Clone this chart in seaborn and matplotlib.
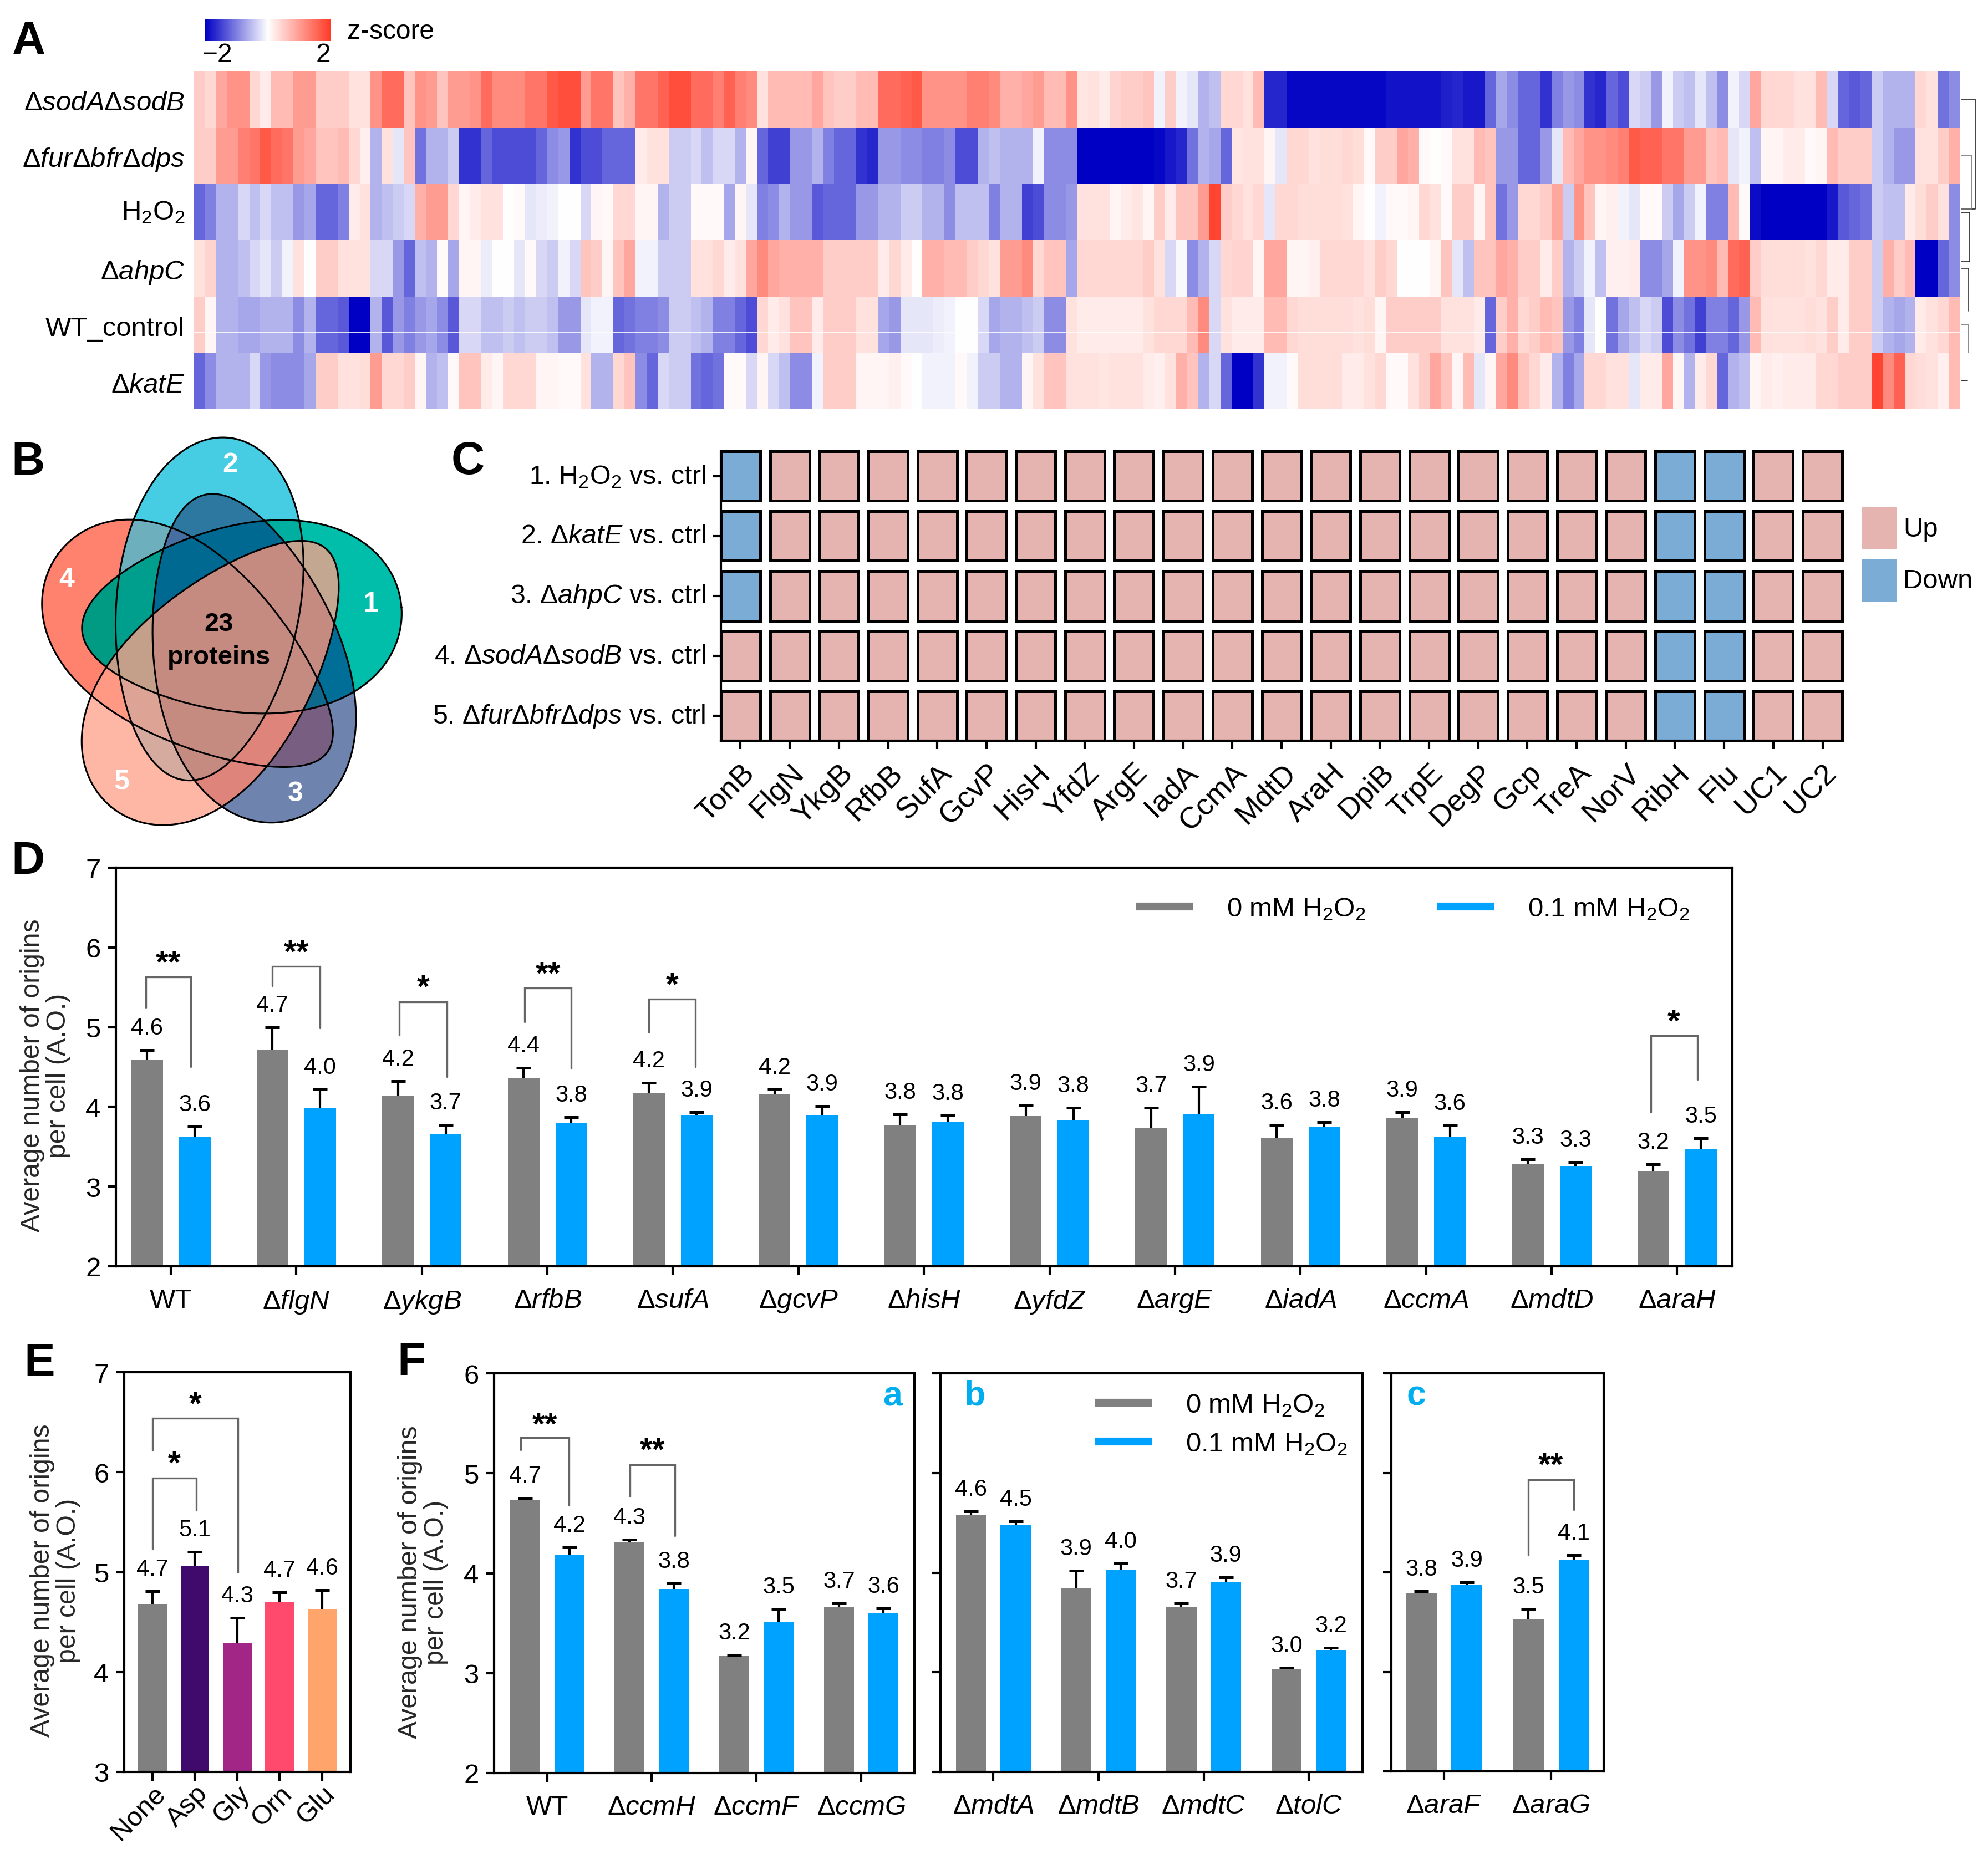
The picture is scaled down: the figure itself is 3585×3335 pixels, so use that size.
import numpy as np
import pandas as pd
import matplotlib
matplotlib.use('Agg')
import matplotlib.pyplot as plt
import seaborn as sns
from matplotlib.colors import LinearSegmentedColormap, ListedColormap
from matplotlib.lines import Line2D
from matplotlib.patches import Rectangle
from matplotlib.path import Path
from matplotlib.transforms import ScaledTranslation

sns.set_theme(style='ticks')
plt.rcParams['font.family'] = ['Liberation Sans', 'DejaVu Sans']
plt.rcParams['mathtext.fontset'] = 'custom'
plt.rcParams['mathtext.rm'] = 'Liberation Sans'
plt.rcParams['mathtext.it'] = 'Liberation Sans:italic'
plt.rcParams['mathtext.bf'] = 'Liberation Sans:bold'
plt.rcParams['mathtext.default'] = 'regular'
plt.rcParams['axes.linewidth'] = 1.0
plt.rcParams['axes.edgecolor'] = 'black'
plt.rcParams['text.color'] = 'black'
plt.rcParams['xtick.color'] = 'black'
plt.rcParams['ytick.color'] = 'black'

W, H = 3585, 3336
GRAY, BLUE = '#808080', '#00a2ff'
H2O2 = 'H$_2$O$_2$'


def delta(*names):
    return ''.join('Δ$\\mathit{%s}$' % n for n in names)


# ---------- panel A: z-scores, read left to right in four stretches ----------
sod_row = [
    .5, .4, .9, 1.1, 1.1, .4, .2, .7, .7, 1.0, 1.0, .5, .5, .5, .3, .3, 1.1, 1.5, 1.5, .6,
    1.1, 1.0, .6, 1.0, 1.0, 1.1, 1.5, 1.2, 1.2, 1.2, 1.4, 1.4, 1.7, 1.8, 1.8, 1.0, 1.4, 1.4, .6, .8,
    1.4, 1.4, 1.6, 1.8, 1.8, 1.5, 1.5, 1.3, 1.6, 1.3, 1.2, .3, .7, .7, .7, .7, .9, .6, .5, .5,
    .7, .7, 1.5, 1.5, 1.6, 1.7, 1.1, 1.1, 1.1, 1.1, 1.3, 1.3, 1.2, .8, .8, .9, 1.0, .7, .7, 1.1,
    .25, .3, .2, .45, .5, .5, .6, -.1, .5, -.1, -.2, -.6, -.5, .4, .4, .3, .7, -1.7, -1.7, -1.95,
    -1.95, -1.95, -1.95, -1.95, -1.95, -1.95, -1.95, -1.95, -1.85, -1.85, -1.85, -1.85, -1.85, -1.75, -1.7, -1.8, -1.8, -1.2, -.7, -.9,
    -1.2, -1.2, -1.6, -1.0, -.8, -.9, -1.6, -1.7, -1.2, -1.4, -.3, -.4, -.8, -.1, -.4, -.5, -.2, -.5, -.9, -.1,
    -.3, .9, .4, .4, .4, .3, .3, .7, -.3, -1.2, -1.3, -1.2, -.4, -.6, -.6, -.6, .4, .3, -1.1, -.9,
]
fur_row = [
    .5, .5, 1.0, 1.0, 1.3, 1.4, 1.7, 1.5, 1.4, 1.0, .9, .6, .6, .7, .4, .15, -.6, .3, -.2, .6,
    -1.1, -.6, -.6, -.4, -1.6, -1.6, -1.2, -1.4, -1.4, -1.4, -1.4, -1.2, -.9, -.8, -1.6, -1.4, -1.4, -1.2, -1.2, -1.2,
    .2, .3, .3, -.4, -.4, -.3, -.5, -.3, -.3, -.6, .1, -1.2, -1.5, -1.5, -.8, -.8, -.6, -1.0, -1.2, -1.2,
    -1.6, -1.7, -.8, -.8, -.9, -.9, -1.0, -1.0, -.9, -1.4, -1.4, -.6, -.5, -.6, -.6, -.6, -.1, -.9, -.9, -.9,
    -2, -2, -2, -2, -2, -2, -2, -1.95, -1.8, -1.7, -1.1, -.6, -.7, -1.2, .25, .3, .3, .1, -.2, .4,
    .4, .3, .35, .35, .4, .35, .05, .5, .5, .9, .8, .05, 0, .05, .3, .3, .7, .6, -.8, -.8,
    -1.2, -1.2, -.8, -.2, .7, .9, 1.1, 1.1, 1.2, 1.3, 1.7, 1.6, 1.6, 1.4, 1.4, 1.0, 1.0, .6, .7, -.2,
    -.1, -.5, .1, .1, .2, .2, .05, .1, .7, .5, .5, .5, -.4, -.6, -.8, -.8, .3, .3, .5, .8,
]
h2o2_row = [
    -1.2, -1.0, -.6, -.6, -.3, -.5, -.3, -.5, -.5, -.8, -.7, -1.2, -1.2, -1.0, .2, .3, -.6, -.5, -.4, -.3,
    .8, 1.0, 1.0, .4, .1, .2, .3, .3, 0, .05, -.2, -.15, -.1, 0, 0, -.3, .1, .05, .4, .4,
    .1, .1, -.6, -.4, -.4, .05, .05, .05, -.7, .1, -.2, -1.0, -.9, -.6, -.8, -.8, -1.3, -1.2, -1.2, -1.2,
    -.8, -.8, -.6, -.6, -.4, -.4, -.6, -.6, -.9, -.5, -.5, -.5, -1.0, -.6, -.6, -1.5, -1.4, -.9, -.9, -.8,
    .3, .3, .3, .1, .2, .25, .1, .5, .2, .6, .6, 1.0, 1.9, .5, .4, .3, .4, -.2, .4, .4,
    .35, .35, .35, .35, .3, .1, 0, -.1, .05, .05, .1, .4, .3, .05, .5, .5, .1, .6, -1.1, -.8,
    .4, .4, .5, .9, -.4, 1.1, .6, .1, .15, -.1, -.2, .05, .05, -.4, -.7, -.4, -.1, -1, -1, .7,
    .05, -1.9, -2, -2, -2, -2, -2, -2, -1.8, -1.3, -1.2, -1.1, -.4, -.5, -.5, .2, .35, .5, .3, -.9,
]
ahp_row = [
    .3, .45, -.6, -.6, -.5, -.3, -.2, -.4, -.1, .3, 0, .5, .5, .3, .3, .3, -.3, -.3, -.8, -1.2,
    -.5, -.6, .05, -.7, .1, .1, -.15, 0, 0, -.2, .05, -.3, -.4, -.1, -.3, .6, .5, .1, .6, .9,
    -.1, -.1, -.4, -.4, -.4, .3, .3, .4, .2, .3, .9, 1.2, .9, .8, .8, .8, .8, .5, .5, .5,
    .5, .5, .2, .4, .2, 0, .8, .8, .7, .7, .5, .4, .3, 1.0, 1.0, 1.2, .4, .6, .6, -.7,
    .4, .4, .4, .4, .4, .4, .5, .3, -.3, -.05, -.9, -.6, -.3, .4, .45, .45, .1, .9, .9, .1,
    .1, .15, .4, .4, .4, .4, .3, .5, .4, 0, 0, 0, .1, .6, -.2, -.5, .6, .6, .9, .8,
    .5, .5, .2, .5, -.6, -.4, -.1, -.5, .15, .15, .2, -.9, -.9, -.7, -.1, 1.1, 1.1, 1.2, .7, 1.5,
    1.6, .5, .35, .35, .35, .35, .3, .4, .2, .2, .5, .5, -.4, .8, .5, .7, -2, -2, -1.2, -.9,
]
wt_row = [
    .5, .1, -.6, -.6, -.7, -.7, -.6, -.6, -.6, -.9, -.6, -1.2, -1.2, -1.3, -2, -2, -.6, -1.3, -.8, -1.0,
    -.8, -.7, -.9, -1.3, -.3, -.3, -.5, -.5, -.4, -.5, -.4, -.4, -.5, -.8, -.8, -.2, -.1, -.1, -1.2, -1.1,
    -1, -1, -.9, -.4, -.4, -.5, -.6, -1.0, -1.0, -1.2, -1.4, .4, .2, .3, .6, .6, .2, .5, .5, .5,
    .3, .3, -.7, -.8, -.2, -.2, -.2, -.15, -.1, 0, 0, -.3, -.7, -.6, -.6, -.5, -.4, -.9, -.9, .3,
    .2, .2, .2, .2, .2, .2, .3, .4, .4, .4, .7, 1.2, -.3, .3, .2, .2, .2, .7, .7, .4,
    .35, .35, .35, .35, .35, .3, .35, .1, .5, .5, .5, .5, .5, .3, .3, .3, .2, -1.2, .5, .8,
    .4, .5, .7, .6, -.8, -1.0, -.2, 0, -1.1, -.7, -.5, -.3, -.4, -1.4, -.9, -1.1, -1.5, -1.0, -1.0, -1.2,
    -.8, .7, .3, .3, .3, .3, .35, .3, .5, .2, .5, .5, -.4, -.6, -.7, -.6, .2, .3, .4, .7,
]
kat_row = [
    -1.2, -.9, -.6, -.6, -.6, -.3, -.8, -.9, -.9, -.9, -.7, .5, .5, .3, .3, .35, 1.0, .4, .4, .5,
    .1, -.6, -.5, .05, .6, .6, .2, .1, .4, .4, .4, .1, .1, .05, .05, .3, -.6, -.6, .4, .6,
    -.9, -1.2, -.3, -.4, -.4, -1.1, -1.2, -1.1, .05, .05, -.3, .1, -.3, -.5, -.9, -.9, -.1, .5, .5, .5,
    .1, .1, .1, .15, .05, 0, -.1, -.1, -.1, .05, -.1, -.4, -.4, -.6, -.6, .1, .3, .6, .6, .3,
    .3, .3, .25, .3, .3, .3, .2, .15, .3, .8, .6, -.6, -.3, -1.2, -2, -2, -1.6, -.1, -.1, .05,
    .35, .35, .35, .35, .2, .2, .3, .4, .05, .05, .3, .5, .9, .6, .1, .7, -.2, .1, .9, 1.2,
    .6, .4, .2, -.6, -1.0, -.7, .4, .4, .3, .3, -.2, .2, .2, .9, .1, -.6, .2, .4, -1.2, -.6,
    -.5, .1, .2, .15, .2, .2, .2, .4, .4, .5, .5, .5, 1.9, 1.2, 1.6, .4, .35, .3, .15, .7,
]
heat_labels = [delta('sodA', 'sodB'), delta('fur', 'bfr', 'dps'), H2O2, delta('ahpC'),
               'WT_control', delta('katE')]

# ---------- panel C ----------
c_proteins = ['TonB', 'FlgN', 'YkgB', 'RfbB', 'SufA', 'GcvP', 'HisH', 'YfdZ', 'ArgE', 'IadA', 'CcmA', 'MdtD',
              'AraH', 'DpiB', 'TrpE', 'DegP', 'Gcp', 'TreA', 'NorV', 'RibH', 'Flu', 'UC1', 'UC2']
c_row_h2o2 = [-1] + [1] * 18 + [-1, -1, 1, 1]
c_row_kat = [-1] + [1] * 18 + [-1, -1, 1, 1]
c_row_ahp = [-1] + [1] * 18 + [-1, -1, 1, 1]
c_row_sod = [1] * 19 + [-1, -1, 1, 1]
c_row_fur = [1] * 19 + [-1, -1, 1, 1]
c_labels = ['1. %s vs. ctrl' % H2O2, '2. %s vs. ctrl' % delta('katE'), '3. %s vs. ctrl' % delta('ahpC'),
            '4. %s vs. ctrl' % delta('sodA', 'sodB'), '5. %s vs. ctrl' % delta('fur', 'bfr', 'dps')]

# ---------- panel D ----------
d_names = ['flgN', 'ykgB', 'rfbB', 'sufA', 'gcvP', 'hisH', 'yfdZ', 'argE', 'iadA', 'ccmA', 'mdtD', 'araH']
d_ctrl = [4.585, 4.72, 4.14, 4.36, 4.18, 4.16, 3.775, 3.884, 3.737, 3.61, 3.865, 3.28, 3.194]
d_ctrl_top = [4.71, 5.0, 4.32, 4.49, 4.30, 4.22, 3.907, 4.02, 3.986, 3.77, 3.933, 3.34, 3.28]
d_h2o2 = [3.63, 3.99, 3.66, 3.80, 3.90, 3.90, 3.816, 3.827, 3.907, 3.745, 3.62, 3.262, 3.477]
d_h2o2_top = [3.75, 4.22, 3.77, 3.87, 3.93, 4.01, 3.89, 3.99, 4.253, 3.805, 3.763, 3.304, 3.605]
d_ctrl_text = ['4.6', '4.7', '4.2', '4.4', '4.2', '4.2', '3.8', '3.9', '3.7', '3.6', '3.9', '3.3', '3.2']
d_h2o2_text = ['3.6', '4.0', '3.7', '3.8', '3.9', '3.9', '3.8', '3.8', '3.9', '3.8', '3.6', '3.3', '3.5']
# x0, x1, top, left end, right end, star height, stars
d_brackets = [(-.2, .16, 5.63, 5.24, 4.506, 5.91, '**'), (.81, 1.19, 5.76, 5.52, 4.99, 6.04, '**'),
              (1.82, 2.2, 5.32, 4.90, 4.38, 5.6, '*'), (2.82, 3.19, 5.49, 5.07, 4.48, 5.77, '**'),
              (3.81, 4.18, 5.35, 4.935, 4.506, 5.63, '*'), (11.79, 12.16, 4.894, 3.933, 4.347, 5.17, '*')]

# ---------- panel E ----------
e_names = ['None', 'Asp', 'Gly', 'Orn', 'Glu']
e_vals = [4.675, 5.06, 4.285, 4.695, 4.625]
e_tops = [4.81, 5.20, 4.54, 4.80, 4.82]
e_text = ['4.7', '5.1', '4.3', '4.7', '4.6']
e_colors = ['#808080', '#3f0a6b', '#a12686', '#ff4a6e', '#ffa46b']
e_brackets = [(0, 2.01, 6.54, 6.22, 5.0, 6.76, '*'), (0, 1.03, 5.94, 5.23, 5.62, 6.17, '*')]

# ---------- panel F ----------
fa_names = ['ccmH', 'ccmF', 'ccmG']
fa_ctrl = [4.734, 4.307, 3.17, 3.657]
fa_ctrl_top = [4.754, 4.336, 3.183, 3.697]
fa_h2o2 = [4.187, 3.843, 3.51, 3.604]
fa_h2o2_top = [4.257, 3.90, 3.644, 3.647]
fa_ctrl_text = ['4.7', '4.3', '3.2', '3.7']
fa_h2o2_text = ['4.2', '3.8', '3.5', '3.6']
fa_brackets = [(-.25, .21, 5.357, 5.234, 4.678, 5.57, '**'), (.79, 1.22, 5.085, 4.77, 4.373, 5.31, '**')]

fb_names = ['mdtA', 'mdtB', 'mdtC', 'tolC']
fb_ctrl = [4.58, 3.84, 3.65, 3.03]
fb_ctrl_top = [4.615, 4.017, 3.69, 3.047]
fb_h2o2 = [4.48, 4.03, 3.90, 3.226]
fb_h2o2_top = [4.515, 4.09, 3.953, 3.246]
fb_ctrl_text = ['4.6', '3.9', '3.7', '3.0']
fb_h2o2_text = ['4.5', '4.0', '3.9', '3.2']

fc_names = ['araF', 'araG']
fc_ctrl = [3.79, 3.53]
fc_ctrl_top = [3.81, 3.63]
fc_h2o2 = [3.87, 4.13]
fc_h2o2_top = [3.897, 4.17]
fc_ctrl_text = ['3.8', '3.5']
fc_h2o2_text = ['3.9', '4.1']
fc_brackets = [(.785, 1.21, 4.93, 4.17, 4.63, 5.16, '**')]

# ---------- figure, everything placed in reference pixels ----------
fig = plt.figure(figsize=(W / 300, H / 300), dpi=300, facecolor='white')


def px_axes(left, top, right, bottom):
    return fig.add_axes([left / W, 1 - bottom / H, (right - left) / W, (bottom - top) / H])


ov = fig.add_axes([0, 0, 1, 1])
ov.set_axis_off()


def grouped_bars(ax, names, ctrl, ctrl_top, h2o2, h2o2_top, ctrl_text, h2o2_text, xlim, ylim, width, gap):
    df = pd.DataFrame({
        'strain': names * 2,
        'origins': ctrl + h2o2,
        'dose': ['0 mM'] * len(names) + ['0.1 mM'] * len(names),
    })
    sns.barplot(df, x='strain', y='origins', hue='dose', palette=[GRAY, BLUE], width=width, gap=gap,
                errorbar=None, saturation=1, legend=False, linewidth=0, ax=ax)
    for bars, tops, texts in zip(ax.containers, [ctrl_top, h2o2_top], [ctrl_text, h2o2_text]):
        for bar, t, s in zip(bars, tops, texts):
            x = bar.get_x() + bar.get_width() / 2
            add_err(ax, x, bar.get_height(), t, s)
    ax.set_xlim(*xlim)
    ax.set_ylim(*ylim)


def add_err(ax, x, y, top, text):
    # one sided: the lower cap would sit on the bar top, so it is hidden
    _, caps, _ = ax.errorbar(x, y, yerr=[[0], [top - y]], color='black', lw=1.0, capsize=3.2, capthick=1.2, zorder=3)
    caps[0].set_visible(False)
    ax.annotate(text, (x, top), xytext=(0, 9.6), textcoords='offset points', ha='center', va='center', fontsize=10)


def add_brackets(ax, brackets):
    for x0, x1, top, y0, y1, star_y, stars in brackets:
        ax.plot([x0, x0, x1, x1], [y0, top, top, y1], color='#666666', lw=0.8, solid_joinstyle='miter', zorder=4)
        ax.annotate(stars, ((x0 + x1) / 2, star_y), xytext=(0, -4), textcoords='offset points',
                    ha='center', va='center', fontsize=14, fontweight='bold')


def style_bar_axis(ax, labels, yticks, ylabel=True, label_px=None, rect=None, xpad=5.5):
    ax.set_xticks(range(len(labels)))
    ax.set_xticklabels(labels)
    ax.set_yticks(yticks)
    ax.set_xlabel('')
    ax.set_ylabel('')
    ax.tick_params(axis='x', length=3.8, width=1.0, labelsize=11.8, pad=xpad)
    ax.tick_params(axis='y', length=3.6, width=1.0, labelsize=11.8, pad=3, labelleft=ylabel)
    if label_px is not None:
        left, top, right, bottom = rect
        ax.set_ylabel('Average number of origins\nper cell (A.O.)', fontsize=11.6, linespacing=1.05,
                      ha='center', va='center')
        ax.yaxis.set_label_coords((label_px[0] - left) / (right - left), 1 - (label_px[1] - top) / (bottom - top))


# ---------- A ----------
rect_a = (350, 129, 3534, 739)
ax_a = px_axes(*rect_a)
cax = px_axes(370, 36, 596, 75)
heat_df = pd.DataFrame([sod_row, fur_row, h2o2_row, ahp_row, wt_row, kat_row], index=heat_labels)
zmap = LinearSegmentedColormap.from_list('z', ['#0000c4', '#ffffff', '#ff3c28'])
sns.heatmap(heat_df, ax=ax_a, cmap=zmap, vmin=-2, vmax=2, cbar_ax=cax, xticklabels=False, yticklabels=True,
            cbar_kws={'orientation': 'horizontal', 'ticks': []})
ax_a.tick_params(axis='y', length=0, labelsize=11.8, rotation=0, pad=4)
ax_a.set_xlabel('')
ax_a.axhline(4.64, color='white', lw=0.4)
cax.tick_params(length=0)
ax_a.collections[0].colorbar.outline.set_visible(False)
# row names sit a little below the row middle, apart from the subscripted one
nudge = ScaledTranslation(0, -7 / 300, fig.dpi_scale_trans)
for lab in ax_a.get_yticklabels():
    if lab.get_text() != H2O2:
        lab.set_transform(lab.get_transform() + nudge)
ov.text(392, 99, '−2', ha='center', va='center', fontsize=11.5)
ov.text(583, 99, '2', ha='center', va='center', fontsize=11.5)
ov.text(626, 57, 'z-score', ha='left', va='center', fontsize=11.5)

# dendrogram stub on the right of the heatmap
for xs, ys, col in [([3537, 3562, 3562, 3537], [180, 180, 378, 378], '#222222'),
                    ([3537, 3556, 3556, 3537], [282, 282, 378, 378], '#777777'),
                    ([3537, 3552, 3552, 3537], [384, 384, 473, 473], '#222222'),
                    ([3537, 3550, 3550], [485, 485, 562], '#333333'),
                    ([3537, 3550, 3550], [587, 587, 637], '#777777'),
                    ([3537, 3548], [688, 688], '#111111')]:
    ov.plot(xs, ys, color=col, lw=0.4)

# ---------- B ----------
eggs = [((148, 1138), (724, 1097), 170, .22),
        ((332, 1408), (416, 791), 165, .10),
        ((367, 894), (525, 1480), 170, .20),
        ((590, 1358), (105, 1000), 165, .28),
        ((587, 990), (200, 1456), 165, .25)]
t = np.linspace(0, 2 * np.pi, 400)
egg_paths = []
for (x0, y0), (x1, y1), b, k in eggs:
    cx, cy = (x0 + x1) / 2, (y0 + y1) / 2
    a = np.hypot(x1 - x0, y1 - y0) / 2
    ux, uy = (x1 - x0) / (2 * a), (y1 - y0) / (2 * a)
    u = a * np.cos(t)
    v = b * np.sin(t) * (1 + k * np.cos(t))
    egg_paths.append(np.column_stack([cx + u * ux - v * uy, cy + u * uy + v * ux]))

base_colors = {0: (255, 255, 255), 1: (0, 190, 170), 2: (70, 205, 228), 4: (110, 132, 175), 8: (255, 130, 110),
               3: (0, 175, 160), 5: (0, 110, 150), 9: (0, 155, 130), 6: (45, 120, 160), 10: (110, 175, 190),
               12: (120, 95, 130), 7: (0, 105, 145), 11: (0, 158, 140), 13: (15, 105, 140), 14: (70, 110, 160),
               15: (0, 105, 145)}
lut = np.zeros((32, 3), dtype=np.uint8)
peach = np.array([255, 161, 138])
for key, col in base_colors.items():
    lut[key] = col
    if key & 4:
        lut[key + 16] = (197, 138, 128)
    else:
        lut[key + 16] = .77 * peach + .23 * np.array(col)
lut[16] = (255, 183, 165)
lut[4 + 16] = (222, 132, 122)
lut[12 + 16] = (222, 132, 122)
gx, gy = np.meshgrid(np.arange(60, 760), np.arange(780, 1500))
pts = np.column_stack([gx.ravel(), gy.ravel()])
mask = np.zeros(len(pts), dtype=int)
for i, p in enumerate(egg_paths):
    mask += Path(p).contains_points(pts).astype(int) << i
ov.imshow(lut[mask].reshape(gx.shape + (3,)), extent=(60, 760, 1500, 780), aspect='auto', interpolation='nearest')
for p in egg_paths:
    ov.plot(p[:, 0], p[:, 1], color='black', lw=0.75)
for s, x, y in [('1', 669, 1090), ('2', 415, 839), ('3', 533, 1432), ('4', 120, 1046), ('5', 219, 1411)]:
    ov.text(x, y, s, color='white', ha='center', va='center', fontsize=12, fontweight='bold')
ov.text(395, 1126, '23', ha='center', va='center', fontsize=11.3, fontweight='bold')
ov.text(395, 1186, 'proteins', ha='center', va='center', fontsize=11.3, fontweight='bold')

# ---------- C ----------
ax_c = px_axes(1300, 815, 3322, 1337)
c_df = pd.DataFrame([c_row_h2o2, c_row_kat, c_row_ahp, c_row_sod, c_row_fur], columns=c_proteins, index=c_labels)
sns.heatmap(c_df, ax=ax_c, cmap=ListedColormap(['#7bacd6', '#e5b3b0']), vmin=-1, vmax=1, cbar=False,
            linewidths=4.5, linecolor='white', xticklabels=True, yticklabels=True)
for i in range(c_df.shape[0]):
    for j in range(c_df.shape[1]):
        ax_c.add_patch(Rectangle((j + .1, i + .088), .8, .824, fill=False, ec='black', lw=1.2, clip_on=False))
ax_c.set_xlim(.1, c_df.shape[1] - .1)
ax_c.set_ylim(c_df.shape[0] - .088, .088)
ax_c.spines['left'].set_visible(True)
ax_c.spines['bottom'].set_visible(True)
ax_c.tick_params(axis='y', length=3.6, width=1.0, labelsize=11.6, rotation=0, pad=3)
ax_c.tick_params(axis='x', length=3.6, width=1.0, labelsize=13, pad=4)
for lab in ax_c.get_xticklabels():
    lab.set_rotation(45)
    lab.set_ha('right')
    lab.set_rotation_mode('anchor')
ax_c.set_xlabel('')
ax_c.set_ylabel('')
ov.add_patch(Rectangle((3358, 916), 62, 75, fc='#e5b3b0', ec='none'))
ov.add_patch(Rectangle((3358, 1009), 62, 78, fc='#7bacd6', ec='none'))
ov.text(3432, 955, 'Up', ha='left', va='center', fontsize=11.8)
ov.text(3432, 1048, 'Down', ha='left', va='center', fontsize=11.8)

# ---------- D ----------
rect_d = (209, 1566, 3124, 2285)
ax_d = px_axes(*rect_d)
d_labels = ['WT'] + [delta(n) for n in d_names]
grouped_bars(ax_d, ['WT'] + d_names, d_ctrl, d_ctrl_top, d_h2o2, d_h2o2_top, d_ctrl_text, d_h2o2_text,
             (-.4375, 12.44), (2, 7), .76, .337)
style_bar_axis(ax_d, d_labels, range(2, 8), label_px=(82, 1940), rect=rect_d)
add_brackets(ax_d, d_brackets)
handles = [Line2D([], [], color=GRAY, lw=3.4, solid_capstyle='butt'),
           Line2D([], [], color=BLUE, lw=3.4, solid_capstyle='butt')]
ax_d.legend(handles, ['0 mM ' + H2O2, '0.1 mM ' + H2O2], ncol=2, frameon=False, fontsize=11.8, handlelength=2.1,
            handletextpad=1.24, columnspacing=2.6, loc='center left', borderpad=0, borderaxespad=0,
            bbox_to_anchor=((2048 - 209) / (3124 - 209), 1 - (1640 - 1566) / (2285 - 1566)))

# ---------- E ----------
rect_e = (224, 2476, 632, 3197)
ax_e = px_axes(*rect_e)
e_df = pd.DataFrame({'aa': e_names, 'origins': e_vals})
sns.barplot(e_df, x='aa', y='origins', hue='aa', palette=e_colors, width=.68, errorbar=None, saturation=1,
            legend=False, linewidth=0, ax=ax_e)
for bar_group, top, s in zip(ax_e.containers, e_tops, e_text):
    bar = bar_group[0]
    add_err(ax_e, bar.get_x() + bar.get_width() / 2, bar.get_height(), top, s)
ax_e.set_xlim(-.668, 4.67)
ax_e.set_ylim(3, 7)
style_bar_axis(ax_e, e_names, range(3, 8), label_px=(100, 2851), rect=rect_e, xpad=0)
for lab in ax_e.get_xticklabels():
    lab.set_rotation(45)
    lab.set_ha('right')
    lab.set_rotation_mode('anchor')
add_brackets(ax_e, e_brackets)
ov.text(566, 2530, 'WT', ha='center', va='center', fontsize=11.8)

# ---------- F ----------
rect_fa = (891, 2478, 1649, 3199)
ax_fa = px_axes(*rect_fa)
grouped_bars(ax_fa, ['WT'] + fa_names, fa_ctrl, fa_ctrl_top, fa_h2o2, fa_h2o2_top, fa_ctrl_text, fa_h2o2_text,
             (-.506, 3.508), (2, 6), .848, .325)
style_bar_axis(ax_fa, ['WT'] + [delta(n) for n in fa_names], range(2, 7), label_px=(763, 2854), rect=rect_fa)
add_brackets(ax_fa, fa_brackets)

ax_fb = px_axes(1696, 2478, 2457, 3197)
grouped_bars(ax_fb, fb_names, fb_ctrl, fb_ctrl_top, fb_h2o2, fb_h2o2_top, fb_ctrl_text, fb_h2o2_text,
             (-.503, 3.51), (2, 6), .848, .325)
style_bar_axis(ax_fb, [delta(n) for n in fb_names], range(2, 7), ylabel=False)
ax_fb.legend(handles, ['0 mM ' + H2O2, '0.1 mM ' + H2O2], frameon=False, fontsize=11.8, handlelength=2.1,
             handletextpad=1.24, labelspacing=.5, loc='upper left', borderpad=0, borderaxespad=0,
             bbox_to_anchor=((1974 - 1696) / (2457 - 1696), 1 - (2512 - 2478) / (3197 - 2478)))

ax_fc = px_axes(2509, 2478, 2892, 3196)
grouped_bars(ax_fc, fc_names, fc_ctrl, fc_ctrl_top, fc_h2o2, fc_h2o2_top, fc_ctrl_text, fc_h2o2_text,
             (-.492, 1.49), (2, 6), .85, .325)
style_bar_axis(ax_fc, [delta(n) for n in fc_names], range(2, 7), ylabel=False)
add_brackets(ax_fc, fc_brackets)

for s, x, y in [('a', 1610, 2519), ('b', 1758, 2518), ('c', 2554, 2518)]:
    fig.text(x / W, 1 - y / H, s, color='#00aeef', ha='center', va='center', fontsize=15, fontweight='bold')

# ---------- panel letters ----------
for s, x, y in [('A', 22, 97), ('B', 20, 856), ('C', 814, 855), ('D', 20, 1576), ('E', 43, 2481), ('F', 716, 2480)]:
    ov.text(x, y, s, ha='left', va='baseline', fontsize=20, fontweight='bold')

ov.set_xlim(0, W)
ov.set_ylim(H, 0)
fig.savefig('out.png', dpi=300)
